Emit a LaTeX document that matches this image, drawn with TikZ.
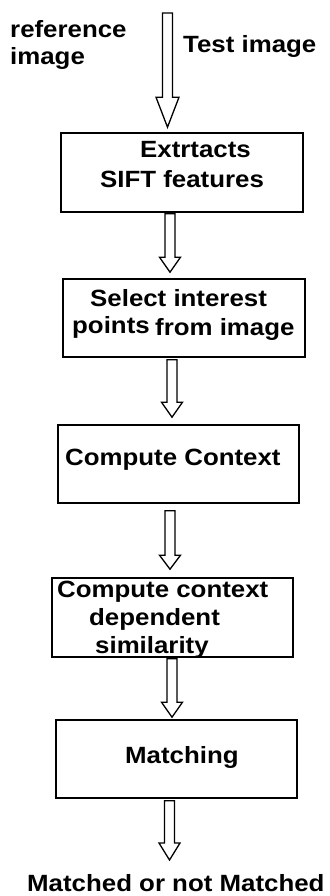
\documentclass[tikz,border=0pt]{standalone}
\usepackage{fontspec}
\setmainfont{Liberation Sans}[FakeStretch=1.1]
\usetikzlibrary{calc}

% hollow block arrow: #1 tail, #2 tip, #3 head length, #4 head half-width
\newcommand\hollowarrow[4]{%
  \draw[arrowline] let \p1=(#1), \p2=(#2) in
    ({\x1-5pt},\y1) -- ({\x1-5pt},{\y2+#3pt}) -- ({\x1-#4pt},{\y2+#3pt})
    -- (\x1,\y2) -- ({\x1+#4pt},{\y2+#3pt}) -- ({\x1+5pt},{\y2+#3pt})
    -- ({\x1+5pt},\y1) -- cycle;}

\begin{document}
\begin{tikzpicture}[x=1pt,y=-1pt,
  stepbox/.style={draw, line width=1.6pt, inner sep=0pt, minimum height=78pt},
  lbl/.style={anchor=base west, inner sep=0pt, font=\fontsize{23.5}{28}\selectfont\bfseries},
  arrowline/.style={draw, fill=white, line width=1.3pt, line join=miter}]
\useasboundingbox (0,0) rectangle (329,896);

% process boxes
\node[stepbox, minimum width=242pt, minimum height=79pt] (b1) at (182,172.5) {};
\node[stepbox, minimum width=242pt] (b2) at (184,318) {};
\node[stepbox, minimum width=241pt] (b3) at (178.5,464) {};
\node[stepbox, minimum width=241pt, minimum height=79pt] (b4) at (172.5,617.5) {};
\node[stepbox, minimum width=241pt] (b5) at (176.5,759) {};

% arrow end points
\coordinate (src) at (167.5,13);
\coordinate (h1) at ($(b1.north)+(-14.5,-5)$);
\coordinate (t2) at ($(b1.south)+(-12,1)$);
\coordinate (h2) at ($(b2.north)+(-14,-6)$);
\coordinate (t3) at ($(b2.south)+(-12,2)$);
\coordinate (h3) at ($(b3.north)+(-6.5,-7)$);
\coordinate (t4) at ($(b3.south)+(-8.5,7)$);
\coordinate (h4) at ($(b4.north)+(-2.5,-8)$);
\coordinate (t5) at ($(b4.south)+(-0.5,1)$);
\coordinate (h5) at ($(b5.north)+(-4.5,-2)$);
\coordinate (t6) at ($(b5.south)+(-7,2)$);
\coordinate (out) at (169.5,860);

\hollowarrow{src}{h1}{30}{11.5}
\hollowarrow{t2}{h2}{15}{10.5}
\hollowarrow{t3}{h3}{15}{10.5}
\hollowarrow{t4}{h4}{14}{10.5}
\hollowarrow{t5}{h5}{15}{10.5}
\hollowarrow{t6}{out}{17}{10.5}

% inputs
\node[lbl] (ref1) at (10,38) {reference};
\node[lbl] (ref2) at (10,65) {image};
\node[lbl] (test) at (183,53) {Test image};

% box texts
\node[lbl] (e1) at (140,158) {Extrtacts};
\node[lbl] (e2) at (100,187) {SIFT features};
\node[lbl] (s1) at (90,306) {Select interest};
\node[lbl] (s2) at (72,333) {points};
\node[lbl] (s3) at (155,335) {from image};
\node[lbl] (c1) at (65,465) {Compute Context};
\node[lbl] (d1) at (57,597) {Compute context};
\node[lbl] (d2) at (89,625) {dependent};
\node[lbl] (d3) at (95,653) {similarity};
\node[lbl] (m1) at (125,763) {Matching};

% result
\node[lbl] (res) at (27,891) {Matched or not Matched};
\end{tikzpicture}
\end{document}
